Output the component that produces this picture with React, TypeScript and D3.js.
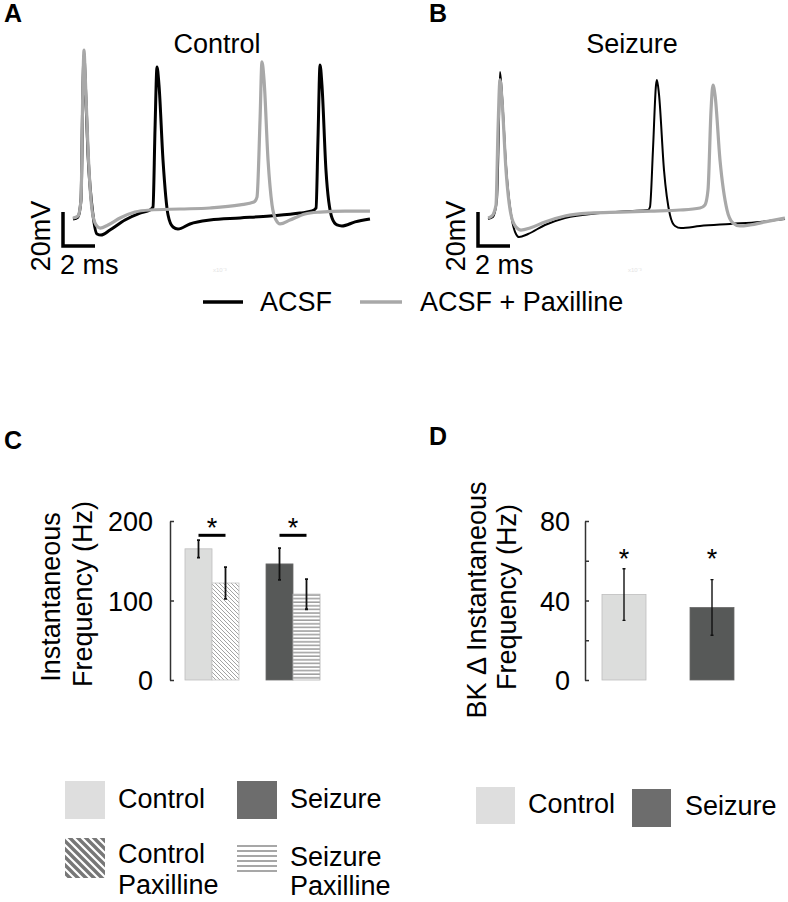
import React, { useEffect, useRef } from 'react';
import * as d3 from 'd3';

const FONT = '"Liberation Sans", Arial, Helvetica, sans-serif';

// membrane potential traces, [time (ms), voltage (mV)]
const controlAcsf: [number, number][] = [
  [0, -60.9], [0.31, -59.7], [0.5, -49.7], [0.625, 18], [0.69, 35.6], [0.75, 23.8], [0.94, -23.2],
  [1.25, -58.5], [1.5, -69.7], [1.75, -70.3], [2.31, -67.4], [3.25, -61.5], [4.19, -57.4], [4.81, -55.6],
  [5, -53.8], [5.125, -8.5], [5.25, 28.5], [5.375, 17.9], [5.625, -26.2], [5.94, -58.5], [6.25, -65.6],
  [6.56, -66.8], [7.31, -63.8], [8.56, -61.5], [10.44, -60.3], [12.31, -59.1], [14.19, -57.4], [14.94, -56.2],
  [15.19, -54.4], [15.31, -14.4], [15.44, 29.7], [15.56, 17.9], [15.81, -32.1], [16.19, -60.3], [16.5, -64.4],
  [16.81, -65], [17.63, -62.6], [18.56, -60.9],
];
const controlPax: [number, number][] = [
  [0, -60.3], [0.31, -59.1], [0.5, -49.7], [0.625, 20.9], [0.69, 38.5], [0.75, 26.8], [0.94, -20.3],
  [1.19, -55.6], [1.44, -64.4], [1.69, -66.2], [2.19, -64.4], [2.94, -60.3], [3.875, -56.8], [4.81, -55.6],
  [6.69, -55], [8.56, -54.4], [10.44, -52.6], [11.31, -50.9], [11.5, -48], [11.69, -2.6], [11.81, 31.5],
  [11.94, 20.9], [12.19, -26.2], [12.44, -52.6], [12.69, -61.5], [12.94, -63.8], [13.56, -61.5], [14.5, -57.9],
  [15.44, -56.8], [17, -56.2], [18.56, -56.2],
];
const seizureAcsf: [number, number][] = [
  [0, -60.9], [0.31, -59.7], [0.56, -49.7], [0.69, -2.6], [0.75, 25.6], [0.875, 12.1], [1.125, -29.1],
  [1.5, -61.5], [1.75, -69.7], [1.94, -71.5], [2.5, -69.7], [3.56, -64.4], [4.81, -60.3], [7, -57.4],
  [8.875, -56.2], [10, -55.6], [10.125, -53.8], [10.31, -20.3], [10.5, 17.9], [10.56, 20.9], [10.69, 12.1],
  [11, -32.1], [11.375, -58.5], [11.69, -65], [12.06, -66.2], [13.25, -65], [15.125, -63.8], [17, -62.6],
  [18.56, -60.9],
];
const seizurePax: [number, number][] = [
  [0, -60.3], [0.25, -59.1], [0.5, -52.6], [0.625, -8.5], [0.75, 20.9], [0.875, 9.1], [1.125, -32.1],
  [1.44, -58.5], [1.75, -65.6], [2.06, -67.4], [2.625, -66.2], [3.56, -62.6], [4.81, -59.1], [6.375, -57.4],
  [8.25, -56.8], [10.125, -56.2], [12, -55.6], [13.25, -54.4], [13.56, -52.6], [13.75, -43.8], [13.94, 3.2],
  [14.06, 17.9], [14.19, 12], [14.5, -26.2], [14.94, -55.6], [15.31, -63.2], [15.75, -65], [16.375, -64.4],
  [17.31, -62.6], [18.56, -60.3],
];
const traceLegend = ['ACSF', 'ACSF + Paxilline'];

// panel C: instantaneous frequency (Hz)
const freqGroups = ['Control', 'Seizure'];
const freqConditions = ['ACSF', 'Paxilline'];
const freqMeans = [[165, 122], [146, 108]];
const freqErrors = [[11, 20], [20, 19]];
const freqTicks = [0, 100, 200];

// panel D: BK delta instantaneous frequency (Hz)
const deltaGroups = ['Control', 'Seizure'];
const deltaMeans = [43, 36.5];
const deltaErrors = [13, 14];
const deltaTicks = [0, 20, 40, 60, 80];
const deltaLabelled = [0, 40, 80];

const LIGHT = '#dcdddc';
const DARK = '#575958';
const TRACE_GRAY = '#a8a8a8';

function Trace({ panelX0, acsf, pax, title, acsfWidth }: any) {
  const x = d3.scaleLinear().domain([0, 18.5]).range([panelX0, panelX0 + 296]);
  const y = d3.scaleLinear().domain([-80, 40]).range([251.5, 47.5]);
  const line = d3.line<[number, number]>().x(d => x(d[0])).y(d => y(d[1])).curve(d3.curveMonotoneX);
  const barH = y(-55) - y(-35); // 20 mV
  const barW = x(2) - x(0); // 2 ms
  const cx = panelX0 - 10;
  const cy = 246;
  return (
    <g>
      <text x={panelX0 + 144} y={53} textAnchor="middle" fontSize={27}>{title}</text>
      <path d={line(acsf) || ''} fill="none" stroke="#000" strokeWidth={acsfWidth} strokeLinejoin="round" />
      <path d={line(pax) || ''} fill="none" stroke={TRACE_GRAY} strokeWidth={3.2} strokeLinejoin="round" />
      <path d={`M${cx},${cy - barH}V${cy}H${cx + barW}`} fill="none" stroke="#000" strokeWidth={3.5} />
      <text transform={`translate(${cx - 13},${cy - 10}) rotate(-90)`} textAnchor="middle" fontSize={27}>20mV</text>
      <text x={cx - 3} y={274} fontSize={27}>2 ms</text>
      <text x={panelX0 + 140} y={272} fontSize={6} fill="#e4e4e4">x10⁻³</text>
    </g>
  );
}

function FreqChart() {
  const axisRef = useRef<SVGGElement>(null);
  const y = d3.scaleLinear().domain([0, 200]).range([680, 521]);
  const x0 = d3.scaleBand().domain(freqGroups).range([185, 320]).paddingInner(1 / 3).paddingOuter(0);
  const x1 = d3.scaleBand().domain(freqConditions).range([0, x0.bandwidth()]).padding(0);
  const fills = [[LIGHT, 'url(#diagFine)'], [DARK, 'url(#horizFine)']];
  const strokes = [['#bdbdbd', '#c4c4c4'], ['#6a6a6a', '#b0b0b0']];

  useEffect(() => {
    const g = d3.select(axisRef.current);
    g.selectAll('*').remove();
    g.call(d3.axisLeft(y).tickValues(freqTicks).tickSizeInner(-4).tickSizeOuter(0).tickPadding(17));
    g.selectAll('path, line').attr('stroke', '#333').attr('stroke-width', 1.5);
    g.selectAll('text').attr('font-size', 27).attr('font-family', FONT).attr('fill', '#000').attr('dy', '0.36em');
  }, []);

  return (
    <g>
      <g ref={axisRef} transform="translate(170,0)" />
      <text transform="translate(60,597) rotate(-90)" textAnchor="middle" fontSize={27}>Instantaneous</text>
      <text transform="translate(92,594) rotate(-90)" textAnchor="middle" fontSize={27}>Frequency (Hz)</text>
      {freqGroups.map((grp, gi) => {
        const gx = x0(grp) || 0;
        const mid = gx + x0.bandwidth() / 2;
        return (
          <g key={grp}>
            {freqConditions.map((c, ci) => {
              const bx = gx + (x1(c) || 0);
              const v = freqMeans[gi][ci];
              const e = freqErrors[gi][ci];
              const ex = bx + x1.bandwidth() / 2;
              return (
                <g key={c}>
                  <rect x={bx} y={y(v)} width={x1.bandwidth()} height={y(0) - y(v)} fill={fills[gi][ci]}
                    stroke={strokes[gi][ci]} strokeWidth={0.8} />
                  <path d={`M${ex - 1.5},${y(v - e)}H${ex + 1.5}M${ex},${y(v - e)}V${y(v + e)}M${ex - 1.5},${y(v + e)}H${ex + 1.5}`}
                    stroke="#111" strokeWidth={1.8} fill="none" />
                </g>
              );
            })}
            <line x1={mid - 13.5} x2={mid + 13.5} y1={y(182)} y2={y(182)} stroke="#000" strokeWidth={3} />
            <text x={mid} y={y(182) + 2} textAnchor="middle" fontSize={27}>*</text>
          </g>
        );
      })}
    </g>
  );
}

function DeltaChart() {
  const axisRef = useRef<SVGGElement>(null);
  const y = d3.scaleLinear().domain([0, 80]).range([680, 521]);
  const x = d3.scaleBand().domain(deltaGroups).range([602, 734]).paddingInner(0.5).paddingOuter(0);
  const fills = [LIGHT, DARK];
  const strokes = ['#bdbdbd', '#6a6a6a'];

  useEffect(() => {
    const g = d3.select(axisRef.current);
    g.selectAll('*').remove();
    g.call(d3.axisLeft(y).tickValues(deltaTicks).tickSizeInner(-4).tickSizeOuter(0).tickPadding(15)
      .tickFormat(d => (deltaLabelled.includes(+d) ? String(d) : '')));
    g.selectAll('path, line').attr('stroke', '#333').attr('stroke-width', 1.5);
    g.selectAll('text').attr('font-size', 27).attr('font-family', FONT).attr('fill', '#000').attr('dy', '0.36em');
  }, []);

  return (
    <g>
      <g ref={axisRef} transform="translate(585,0)" />
      <text transform="translate(486,600) rotate(-90)" textAnchor="middle" fontSize={27}>BK Δ Instantaneous</text>
      <text transform="translate(516,597) rotate(-90)" textAnchor="middle" fontSize={27}>Frequency (Hz)</text>
      {deltaGroups.map((grp, i) => {
        const bx = x(grp) || 0;
        const v = deltaMeans[i];
        const e = deltaErrors[i];
        const ex = bx + x.bandwidth() / 2;
        return (
          <g key={grp}>
            <rect x={bx} y={y(v)} width={x.bandwidth()} height={y(0) - y(v)} fill={fills[i]} stroke={strokes[i]} strokeWidth={0.8} />
            <path d={`M${ex - 1.5},${y(v - e)}H${ex + 1.5}M${ex},${y(v - e)}V${y(v + e)}M${ex - 1.5},${y(v + e)}H${ex + 1.5}`}
              stroke="#111" strokeWidth={1.4} fill="none" />
            <text x={ex} y={y(57) + 1} textAnchor="middle" fontSize={27}>*</text>
          </g>
        );
      })}
    </g>
  );
}

export default function App() {
  return (
    <svg width={788} height={902} style={{ position: 'absolute', left: 0, top: 0, background: '#fff' }}
      fontFamily={FONT}>
      <defs>
        <pattern id="diagFine" patternUnits="userSpaceOnUse" width={4} height={4}>
          <rect width={4} height={4} fill="#fff" />
          <path d="M0,0L4,4M-1,3L1,5M3,-1L5,1" stroke="#8c8c8c" strokeWidth={0.8} />
        </pattern>
        <pattern id="horizFine" patternUnits="userSpaceOnUse" width={4} height={3.6}>
          <rect width={4} height={3.6} fill="#fff" />
          <line x1={0} x2={4} y1={1} y2={1} stroke="#8c8c8c" strokeWidth={1.3} />
        </pattern>
        <pattern id="diagThick" patternUnits="userSpaceOnUse" width={8} height={8}>
          <rect width={8} height={8} fill="#fff" />
          <path d="M0,0L8,8M-2,6L2,10M6,-2L10,2" stroke="#777" strokeWidth={3.4} />
        </pattern>
        <pattern id="horizThick" patternUnits="userSpaceOnUse" width={40} height={5}>
          <rect width={40} height={5} fill="#fff" />
          <line x1={0} x2={40} y1={1} y2={1} stroke="#8a8a8a" strokeWidth={1.5} />
        </pattern>
      </defs>

      {/* panel letters */}
      <g fontWeight="bold" fontSize={25}>
        <text x={4} y={22}>A</text>
        <text x={429} y={22}>B</text>
        <text x={4} y={449}>C</text>
        <text x={429} y={445}>D</text>
      </g>

      <Trace panelX0={73} acsf={controlAcsf} pax={controlPax} title="Control" acsfWidth={3} />
      <Trace panelX0={488} acsf={seizureAcsf} pax={seizurePax} title="Seizure" acsfWidth={2} />

      {/* trace legend */}
      <line x1={203} x2={243} y1={302} y2={302} stroke="#000" strokeWidth={3.5} />
      <text x={260} y={311} fontSize={27}>{traceLegend[0]}</text>
      <line x1={360} x2={402} y1={302} y2={302} stroke={TRACE_GRAY} strokeWidth={3.5} />
      <text x={420} y={311} fontSize={27}>{traceLegend[1]}</text>

      <FreqChart />
      <DeltaChart />

      {/* legend C */}
      <g fontSize={27}>
        <rect x={65} y={781} width={40} height={38} fill="#dedede" />
        <text x={118} y={808}>{freqGroups[0]}</text>
        <rect x={237} y={781} width={40} height={38} fill="#6d6d6d" />
        <text x={290} y={808}>{freqGroups[1]}</text>
        <rect x={65} y={838} width={40} height={40} fill="url(#diagThick)" />
        <text x={118} y={863}>{freqGroups[0]}</text>
        <text x={118} y={894}>Paxilline</text>
        <rect x={237} y={842} width={40} height={32} fill="url(#horizThick)" />
        <text x={290} y={866}>{freqGroups[1]}</text>
        <text x={290} y={895}>Paxilline</text>
      </g>

      {/* legend D */}
      <g fontSize={27}>
        <rect x={476} y={787} width={39} height={37} fill="#dedede" />
        <text x={528} y={813}>{deltaGroups[0]}</text>
        <rect x={632} y={789} width={39} height={38} fill="#6d6d6d" />
        <text x={685} y={815}>{deltaGroups[1]}</text>
      </g>
    </svg>
  );
}
